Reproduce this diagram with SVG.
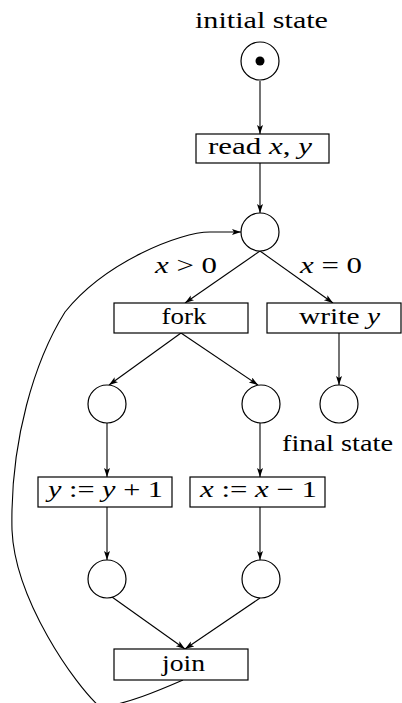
<svg xmlns="http://www.w3.org/2000/svg" width="402" height="703" viewBox="0 0 402 703">
<style>
.n{fill:#fff;stroke:#000;stroke-width:1.2}
.t{font-size:23px;fill:#000;text-anchor:middle}
.i{font-style:italic}
.e{fill:none;stroke:#000;stroke-width:1.1}
</style>
<defs>
<marker id="a" markerUnits="userSpaceOnUse" markerWidth="10" markerHeight="8" refX="9" refY="3" orient="auto">
<path d="M0,0 L9,3 L0,6 L2,3 z" fill="#000"/>
</marker>
</defs>
<g id="connectors">
<line class="e" x1="260" y1="81" x2="260" y2="134" marker-end="url(#a)"/>
<line class="e" x1="260" y1="163" x2="260" y2="213" marker-end="url(#a)"/>
<line class="e" x1="260" y1="251" x2="185" y2="303" marker-end="url(#a)"/>
<line class="e" x1="260" y1="251" x2="333" y2="303" marker-end="url(#a)"/>
<line class="e" x1="181" y1="333" x2="109" y2="385" marker-end="url(#a)"/>
<line class="e" x1="181" y1="333" x2="258" y2="385" marker-end="url(#a)"/>
<line class="e" x1="339" y1="333" x2="339" y2="385" marker-end="url(#a)"/>
<line class="e" x1="107" y1="423" x2="107" y2="477" marker-end="url(#a)"/>
<line class="e" x1="260" y1="423" x2="260" y2="477" marker-end="url(#a)"/>
<line class="e" x1="107" y1="507" x2="107" y2="560" marker-end="url(#a)"/>
<line class="e" x1="260" y1="507" x2="260" y2="560" marker-end="url(#a)"/>
<line class="e" x1="112" y1="597" x2="185" y2="649" marker-end="url(#a)"/>
<line class="e" x1="260" y1="598" x2="185" y2="649" marker-end="url(#a)"/>
<path class="e" d="M183,680 C160,690 125,705 100,707 C75,685 15,600 12,530 C10,440 35,360 65,312 C105,262 180,232 210,232 L241,232" marker-end="url(#a)"/>
</g>
<g font-family="'Liberation Serif', 'Times New Roman', serif">
<g id="initial">
<circle class="n" cx="260" cy="61" r="19"/>
<circle cx="260" cy="61" r="4.5" fill="#000"/>
<text class="t" x="261.5" y="28" textLength="133" lengthAdjust="spacingAndGlyphs">initial state</text>
</g>
<g id="read">
<rect class="n" x="196" y="134" width="133" height="29"/>
<text class="t" x="260" y="154" textLength="104" lengthAdjust="spacingAndGlyphs">read <tspan class="i">x</tspan>, <tspan class="i">y</tspan></text>
</g>
<g id="choice">
<circle class="n" cx="260" cy="232" r="19"/>
</g>
<g id="labels">
<text class="t" x="186" y="273" textLength="62" lengthAdjust="spacingAndGlyphs"><tspan class="i">x</tspan> &gt; 0</text>
<text class="t" x="331" y="273" textLength="62" lengthAdjust="spacingAndGlyphs"><tspan class="i">x</tspan> = 0</text>
</g>
<g id="fork">
<rect class="n" x="114" y="303" width="134" height="30"/>
<text class="t" x="184" y="324" textLength="45" lengthAdjust="spacingAndGlyphs">fork</text>
</g>
<g id="write">
<rect class="n" x="267" y="303" width="134" height="30"/>
<text class="t" x="339.5" y="324" textLength="81" lengthAdjust="spacingAndGlyphs">write <tspan class="i">y</tspan></text>
</g>
<g id="s1"><circle class="n" cx="107" cy="404" r="19"/></g>
<g id="s2"><circle class="n" cx="261" cy="404" r="19"/></g>
<g id="final">
<circle class="n" cx="339" cy="404" r="19"/>
<text class="t" x="337.5" y="451" textLength="111" lengthAdjust="spacingAndGlyphs">final state</text>
</g>
<g id="incy">
<rect class="n" x="38" y="477" width="134" height="30"/>
<text class="t" x="105.5" y="497" textLength="115" lengthAdjust="spacingAndGlyphs"><tspan class="i">y</tspan> := <tspan class="i">y</tspan> + 1</text>
</g>
<g id="decx">
<rect class="n" x="190" y="477" width="135" height="30"/>
<text class="t" x="258.5" y="497" textLength="117" lengthAdjust="spacingAndGlyphs"><tspan class="i">x</tspan> := <tspan class="i">x</tspan> − 1</text>
</g>
<g id="s3"><circle class="n" cx="107" cy="579" r="19"/></g>
<g id="s4"><circle class="n" cx="261" cy="579" r="19"/></g>
<g id="join">
<rect class="n" x="114" y="649" width="134" height="31"/>
<text class="t" x="183.5" y="671" textLength="43" lengthAdjust="spacingAndGlyphs">join</text>
</g>
</g>
</svg>
